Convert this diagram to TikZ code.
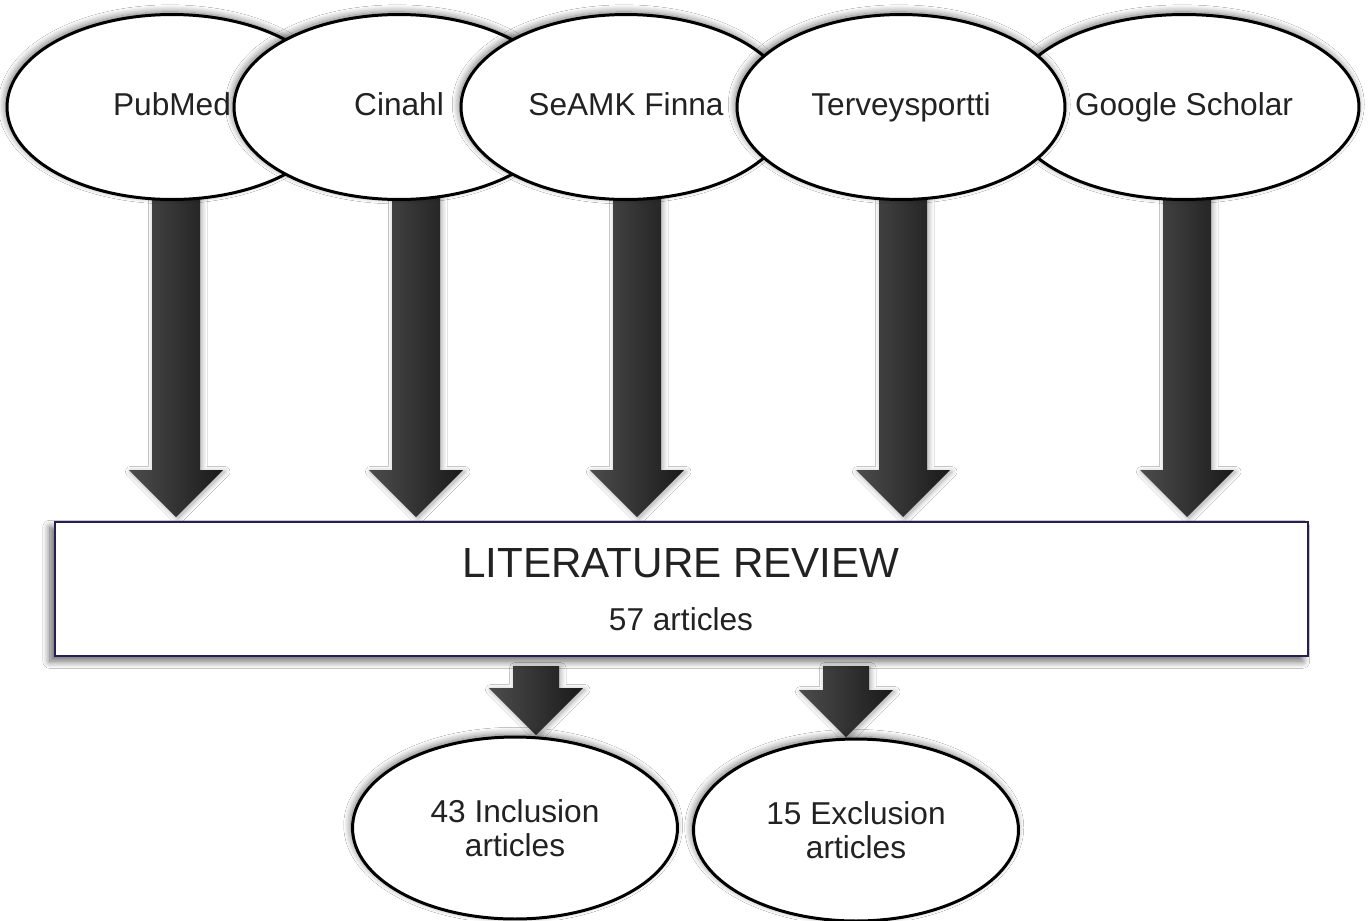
\documentclass[tikz,border=0pt]{standalone}
\usepackage{fontspec}
\setmainfont{Liberation Sans}
\usetikzlibrary{calc,shapes.geometric,shadows.blur,backgrounds}
\definecolor{boxline}{RGB}{40,30,85}
\definecolor{txt}{RGB}{34,34,34}
\tikzset{
  source/.style={ellipse,draw=black,line width=1.7pt,fill=white,text=txt,
    minimum width=6.6cm,minimum height=3.7cm,inner sep=0pt,
    text height=0.96em,text depth=0pt,
    font=\fontsize{18}{19.5}\selectfont,
    blur shadow={shadow xshift=-1pt,shadow yshift=1.5pt,shadow blur radius=4pt,
      shadow blur steps=12,shadow opacity=55}},
  result/.style={source,align=center,text height=,text depth=,
    minimum width=6.5cm,minimum height=3.64cm},
  review/.style={rectangle,draw=boxline,line width=1.2pt,fill=white,
    minimum width=25.06cm,minimum height=2.68cm,
    blur shadow={shadow xshift=-3pt,shadow yshift=-3pt,shadow blur radius=4pt,
      shadow blur steps=12,shadow opacity=60}},
  arrowbody/.style={left color=black!70,right color=black!90,
    blur shadow={shadow xshift=1pt,shadow yshift=-1pt,shadow blur radius=3pt,
      shadow blur steps=10,shadow opacity=35}}
}
% block arrow: start node, tip, shaft half width, gap below start
\newcommand\blockarrow[4]{%
  \path[arrowbody] ($(#1 -| #2)+(-#3,#4)$) -- ($(#2)+(-#3,-47)$) -- ($(#2)+(-47,-47)$)
    -- (#2) -- ($(#2)+(47,-47)$) -- ($(#2)+(#3,-47)$) -- ($(#1 -| #2)+(#3,#4)$) -- cycle;}
\begin{document}
\begin{tikzpicture}[x=0.02cm,y=-0.02cm]
\useasboundingbox (0,0) rectangle (1369,920);

% review box
\node[review] (box) at (681.5,589) {};
\node[text=txt,font=\fontsize{24}{28}\selectfont] (title) at (681,563) {LITERATURE REVIEW};
\node[text=txt,font=\fontsize{18}{20}\selectfont] (count) at (681,619) {57 articles};

% databases
\node[source] (pub) at (172,107) {PubMed};
\node[source] (cin) at (399,107) {Cinahl};
\node[source] (sea) at (626,107) {SeAMK Finna};
\node[source,minimum width=7cm] (goo) at (1184,107) {Google Scholar};
\node[source,minimum width=6.56cm] (ter) at (901,107) {Terveysportti};

% results
\node[result] (inc) at (515,828) {43 Inclusion\\articles};
\node[result] (exc) at (856,830) {15 Exclusion\\articles};

\coordinate (a1) at (176,517);
\coordinate (a2) at (416,517);
\coordinate (a3) at (637,517);
\coordinate (a4) at (903,517);
\coordinate (a5) at (1187,517);
\coordinate (i1) at (536,735);
\coordinate (e1) at (846,737);

\begin{pgfonlayer}{background}
\fill[white] (0,0) rectangle (1369,920);
\blockarrow{pub}{a1}{24}{0}
\blockarrow{cin}{a2}{24}{0}
\blockarrow{sea}{a3}{24}{0}
\blockarrow{ter}{a4}{24}{0}
\blockarrow{goo}{a5}{24}{0}
\blockarrow{box.south}{i1}{23}{9}
\blockarrow{box.south}{e1}{23}{9}
\end{pgfonlayer}
\end{tikzpicture}
\end{document}
